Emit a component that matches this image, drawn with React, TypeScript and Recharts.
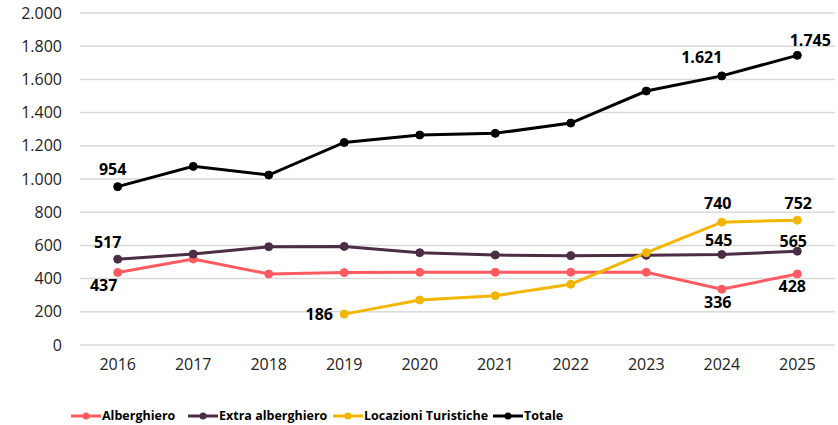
import { LineChart, Line, XAxis, YAxis, CartesianGrid, Legend, LabelList } from "recharts";

const years = ["2016", "2017", "2018", "2019", "2020", "2021", "2022", "2023", "2024", "2025"];
const alberghiero = [437, 518, 428, 436, 438, 438, 438, 438, 336, 428];
const extraAlberghiero = [517, 548, 592, 594, 556, 542, 538, 540, 545, 565];
const locazioni = [null, null, null, 186, 271, 297, 366, 556, 740, 752];
const totale = [954, 1076, 1024, 1220, 1265, 1275, 1337, 1530, 1621, 1745];
const yTicks = [0, 200, 400, 600, 800, 1000, 1200, 1400, 1600, 1800, 2000];

// which points carry a data label, and where Excel nudged them
const labelOffsets: Record<string, Record<number, [number, number]>> = {
  alberghiero: { 0: [-14, 13], 8: [-4, 13], 9: [-5, 12] },
  extraAlberghiero: { 0: [-10, -17], 8: [-3, -15], 9: [-4, -10] },
  locazioni: { 3: [-25, 0], 8: [-4, -19], 9: [1, -17] },
  totale: { 0: [-5, -18], 8: [-20, -19], 9: [13, -15] },
};

const SERIES = [
  { key: "alberghiero", name: "Alberghiero", color: "#FF5A5F", w: 117 },
  { key: "extraAlberghiero", name: "Extra alberghiero", color: "#4B2D46", w: 145 },
  { key: "locazioni", name: "Locazioni Turistiche", color: "#F2B600", w: 160 },
  { key: "totale", name: "Totale", color: "#000000", w: 100 },
];

const data = years.map((y, i) => ({
  year: y,
  alberghiero: alberghiero[i],
  extraAlberghiero: extraAlberghiero[i],
  locazioni: locazioni[i],
  totale: totale[i],
}));

const FONT = "'Open Sans', sans-serif";

const fmt = (v: number) => String(v).replace(/\B(?=(\d{3})+(?!\d))/g, ".");

function makeLabel(seriesKey: string) {
  return (props: any) => {
    const { x, y, index, value } = props;
    const off = labelOffsets[seriesKey][index];
    if (!off || value == null) return null;
    return (
      <text
        x={x + off[0]}
        y={y + off[1]}
        textAnchor="middle"
        dominantBaseline="central"
        fontFamily={FONT}
        fontWeight={700}
        fontSize={16}
        fill="#000"
      >
        {fmt(value)}
      </text>
    );
  };
}

function LegendContent() {
  return (
    <div style={{ display: "flex", paddingLeft: 70, paddingTop: 26, fontFamily: FONT, fontWeight: 700, fontSize: 12.5, color: "#000" }}>
      {SERIES.map((s) => (
        <div key={s.key} style={{ display: "flex", alignItems: "center", width: s.w }}>
          <svg width={32} height={10}>
            <line x1={1} y1={5} x2={31} y2={5} stroke={s.color} strokeWidth={3} />
            <circle cx={16} cy={5} r={3.5} fill={s.color} />
          </svg>
          <span style={{ whiteSpace: "nowrap" }}>{s.name}</span>
        </div>
      ))}
    </div>
  );
}

export default function App() {
  return (
    <div style={{ position: "absolute", left: 0, top: 0, background: "#fff" }}>
      <LineChart width={838} height={425} data={data} margin={{ top: 13, right: 3, bottom: 0, left: 0 }}>
        <CartesianGrid vertical={false} stroke="#D9D9D9" strokeWidth={1.5} />
        <XAxis
          dataKey="year"
          axisLine={false}
          tickLine={false}
          height={36}
          padding={{ left: 37.7, right: 37.7 }}
          tick={{ fontFamily: FONT, fontSize: 16, fill: "#222" }}
          dy={6}
        />
        <YAxis
          domain={[0, 2000]}
          ticks={yTicks}
          width={80}
          axisLine={false}
          tickLine={false}
          tickFormatter={fmt}
          tick={{ fontFamily: FONT, fontSize: 16, fill: "#222" }}
          dx={-10}
        />
        <Legend verticalAlign="bottom" height={44} content={<LegendContent />} />
        {SERIES.map((s) => (
          <Line
            key={s.key}
            dataKey={s.key}
            name={s.name}
            stroke={s.color}
            strokeWidth={3}
            dot={{ r: 4, fill: s.color, stroke: s.color, strokeWidth: 1 }}
            activeDot={false}
            isAnimationActive={false}
            connectNulls={false}
          >
            <LabelList dataKey={s.key} content={makeLabel(s.key)} />
          </Line>
        ))}
      </LineChart>
    </div>
  );
}
